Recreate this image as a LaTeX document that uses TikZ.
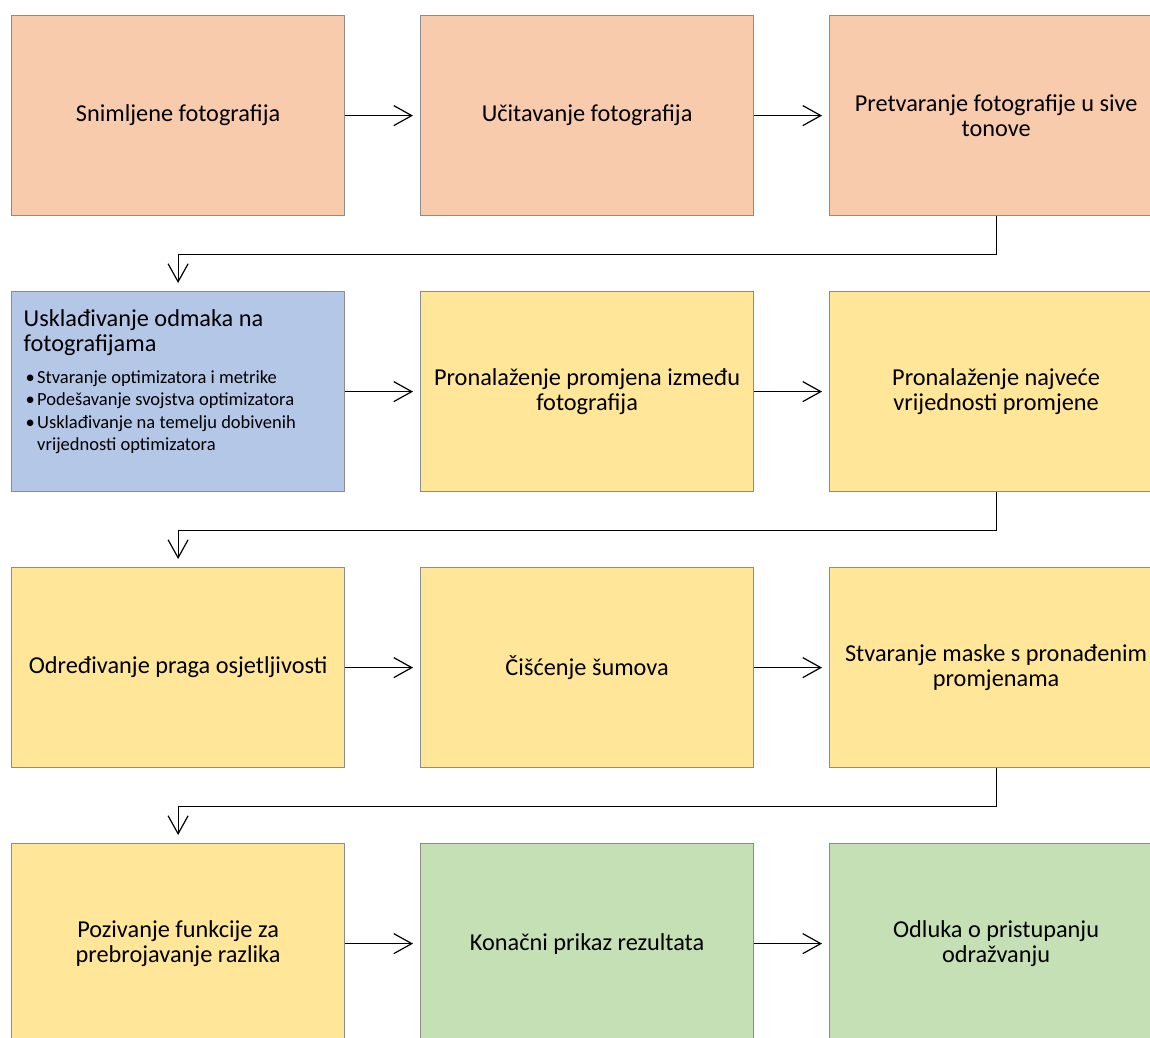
\documentclass[tikz,border=0pt]{standalone}
\usepackage{fontspec}
\setmainfont{Carlito}
\usetikzlibrary{arrows.meta}
\definecolor{peach}{HTML}{F8CBAD}
\definecolor{lblue}{HTML}{B4C7E7}
\definecolor{lyellow}{HTML}{FFE699}
\definecolor{lgreen}{HTML}{C5E0B4}
\definecolor{boxline}{HTML}{8C8C8C}
\begin{document}
\begin{tikzpicture}[x=1pt,y=-1pt,
  stepbox/.style={draw=boxline, line width=1.2pt, minimum width=333pt, minimum height=200pt,
    inner sep=0pt, align=center, anchor=north west, font=\fontsize{24.3}{25.5}\selectfont},
  conn/.style={-{Straight Barb[length=18pt,width=20pt]}, line width=1.2pt, shorten >=7pt},
  elbow/.style={conn, shorten >=8pt}
]
\useasboundingbox (0,0) rectangle (1150,1037);
% row 1
\node[stepbox, fill=peach] (b1) at (11,15) {Snimljene fotografija};
\node[stepbox, fill=peach] (b2) at (420,15) {Učitavanje fotografija};
\node[stepbox, fill=peach] (b3) at (829,15) {Pretvaranje fotografije u sive\\tonove};
% row 2
\node[stepbox, fill=lblue] (b4) at (11,291) {};
\node[anchor=base west, inner sep=0pt] (b4t) at (23.5,326.7) {\parbox[t]{318pt}{\raggedright
  \lineskiplimit=-100pt
  \fontsize{24.3}{25}\selectfont Usklađivanje odmaka na\\fotografijama\par
  \vspace{9.5pt}
  \fontsize{18.5}{22.3}\selectfont
  \hspace*{2pt}\makebox[11.5pt][l]{•}Stvaranje optimizatora i metrike\par
  \hspace*{2pt}\makebox[11.5pt][l]{•}Podešavanje svojstva optimizatora\par
  \hspace*{2pt}\makebox[11.5pt][l]{•}Usklađivanje na temelju dobivenih\par
  \hspace*{13.5pt}vrijednosti optimizatora\par}};
\node[stepbox, fill=lyellow] (b5) at (420,291) {Pronalaženje promjena između\\fotografija};
\node[stepbox, fill=lyellow] (b6) at (829,291) {Pronalaženje najveće\\vrijednosti promjene};
% row 3
\node[stepbox, fill=lyellow] (b7) at (11,567) {Određivanje praga osjetljivosti};
\node[stepbox, fill=lyellow] (b8) at (420,567) {Čišćenje šumova};
\node[stepbox, fill=lyellow] (b9) at (829,567) {Stvaranje maske s pronađenim\\promjenama};
% row 4
\node[stepbox, fill=lyellow] (b10) at (11,843) {Pozivanje funkcije za\\prebrojavanje razlika};
\node[stepbox, fill=lgreen] (b11) at (420,843) {Konačni prikaz rezultata};
\node[stepbox, fill=lgreen] (b12) at (829,843) {Odluka o pristupanju\\odražvanju};
% connectors
\draw[conn] (b1.east) -- (b2.west);
\draw[conn] (b2.east) -- (b3.west);
\draw[elbow] (b3.south) -- ++(0,38) -| (b4.north);
\draw[conn] (b4.east) -- (b5.west);
\draw[conn] (b5.east) -- (b6.west);
\draw[elbow] (b6.south) -- ++(0,38) -| (b7.north);
\draw[conn] (b7.east) -- (b8.west);
\draw[conn] (b8.east) -- (b9.west);
\draw[elbow] (b9.south) -- ++(0,38) -| (b10.north);
\draw[conn] (b10.east) -- (b11.west);
\draw[conn] (b11.east) -- (b12.west);
\end{tikzpicture}
\end{document}
